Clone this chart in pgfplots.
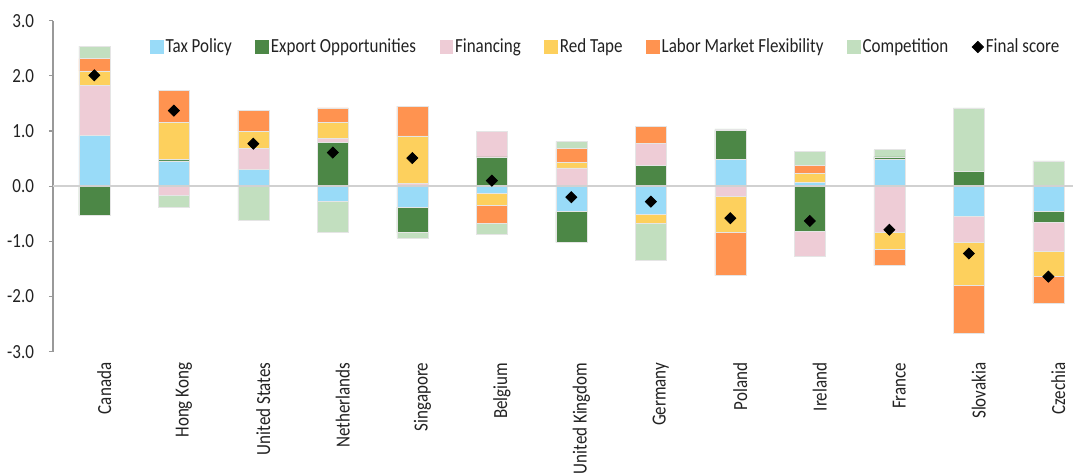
\documentclass[border=0pt]{standalone}
\usepackage{fontspec}
\setmainfont{Carlito}[FakeStretch=0.85]
\usepackage{pgfplots}
\usepackage{pgfplotstable}
\pgfplotsset{compat=1.18}

\definecolor{taxc}{HTML}{99DBF8}
\definecolor{expc}{HTML}{4C8746}
\definecolor{finc}{HTML}{EECCD6}
\definecolor{redc}{HTML}{FDD05D}
\definecolor{labc}{HTML}{FF9350}
\definecolor{comc}{HTML}{C2DFBF}
\definecolor{txt}{HTML}{222222}

\pgfplotstableread{
idx tax exp fin red lab com score
0   0.92 -0.53  0.91  0.26  0.22  0.23  2.01
1   0.46  0.02 -0.16  0.67  0.58 -0.22  1.37
2   0.31  0.00  0.38  0.31  0.38 -0.61  0.77
3  -0.28  0.79  0.07  0.29  0.27 -0.56  0.61
4  -0.38 -0.46  0.05  0.86  0.54 -0.10  0.51
5  -0.12  0.53  0.46 -0.23 -0.33 -0.20  0.10
6  -0.46 -0.56  0.33  0.10  0.25  0.13 -0.20
7  -0.51  0.38  0.39 -0.17  0.31 -0.66 -0.28
8   0.48  0.53 -0.18 -0.66 -0.78  0.03 -0.58
9   0.07 -0.81 -0.46  0.16  0.15  0.25 -0.63
10  0.48  0.05 -0.84 -0.30 -0.30  0.13 -0.79
11 -0.55  0.27 -0.47 -0.78 -0.86  1.15 -1.22
12 -0.46 -0.20 -0.52 -0.46 -0.48  0.46 -1.64
}\data

\pgfplotsset{
  base/.style={
    width=510pt, height=165.5pt, scale only axis,
    xmin=-0.52, xmax=12.31, ymin=-3, ymax=3,
  },
  barax/.style={base, ybar stacked, bar width=15.5pt, hide axis,
    every axis plot/.append style={draw=white!90!black, line width=0.3pt}},
}

\begin{document}
\begin{tikzpicture}[font=\color{txt}]
% axis frame, ticks, labels
\begin{axis}[base,
  axis lines*=left,
  separate axis lines,
  x axis line style={draw=none},
  y axis line style={draw=black!40, line width=0.6pt},
  ytick={-3,-2,-1,0,1,2,3},
  yticklabel style={xshift=-4pt, /pgf/number format/fixed, /pgf/number format/fixed zerofill, /pgf/number format/precision=1, /pgf/number format/assume math mode=true},
  ytick style={draw=black!40, line width=0.6pt},
  tick align=outside,
  major tick length=2pt,
  xtick={0,...,12},
  xticklabels={Canada,Hong Kong,United States,Netherlands,Singapore,Belgium,United Kingdom,Germany,Poland,Ireland,France,Slovakia,Czechia},
  xticklabel style={rotate=90, anchor=east, yshift=-5pt},
  xtick style={draw=none},
]
\addplot[draw=none] coordinates {(0,0)};
\end{axis}
% positive parts
\begin{axis}[barax]
\addplot[fill=taxc] table[x=idx, y expr={max(\thisrow{tax},0)}] {\data};
\addplot[fill=expc] table[x=idx, y expr={max(\thisrow{exp},0)}] {\data};
\addplot[fill=finc] table[x=idx, y expr={max(\thisrow{fin},0)}] {\data};
\addplot[fill=redc] table[x=idx, y expr={max(\thisrow{red},0)}] {\data};
\addplot[fill=labc] table[x=idx, y expr={max(\thisrow{lab},0)}] {\data};
\addplot[fill=comc] table[x=idx, y expr={max(\thisrow{com},0)}] {\data};
\end{axis}
% negative parts
\begin{axis}[barax]
\addplot[fill=taxc] table[x=idx, y expr={min(\thisrow{tax},0)}] {\data};
\addplot[fill=expc] table[x=idx, y expr={min(\thisrow{exp},0)}] {\data};
\addplot[fill=finc] table[x=idx, y expr={min(\thisrow{fin},0)}] {\data};
\addplot[fill=redc] table[x=idx, y expr={min(\thisrow{red},0)}] {\data};
\addplot[fill=labc] table[x=idx, y expr={min(\thisrow{lab},0)}] {\data};
\addplot[fill=comc] table[x=idx, y expr={min(\thisrow{com},0)}] {\data};
\end{axis}
% zero line, final score, legend
\begin{axis}[base, hide axis, clip=false,
  legend columns=7,
  legend style={at={(0.0951,0.9205)}, anchor=west, draw=none, fill=none,
    inner sep=0pt, outer sep=0pt, nodes={inner sep=1pt},
    /tikz/every even column/.append style={column sep=10.75pt}},
  legend cell align=left,
]
\draw[black!18, line width=1pt] (rel axis cs:0,0.5) -- (rel axis cs:1,0.5);
\addlegendimage{legend image code/.code={\fill[taxc] (0pt,-3.2pt) rectangle (6.4pt,3.2pt);}}
\addlegendimage{legend image code/.code={\fill[expc] (0pt,-3.2pt) rectangle (6.4pt,3.2pt);}}
\addlegendimage{legend image code/.code={\fill[finc] (0pt,-3.2pt) rectangle (6.4pt,3.2pt);}}
\addlegendimage{legend image code/.code={\fill[redc] (0pt,-3.2pt) rectangle (6.4pt,3.2pt);}}
\addlegendimage{legend image code/.code={\fill[labc] (0pt,-3.2pt) rectangle (6.4pt,3.2pt);}}
\addlegendimage{legend image code/.code={\fill[comc] (0pt,-3.2pt) rectangle (6.4pt,3.2pt);}}
\addlegendimage{legend image code/.code={\fill[black] (3.2pt,2.8pt) -- (6pt,0pt) -- (3.2pt,-2.8pt) -- (0.4pt,0pt) -- cycle;}}
\addplot[only marks, mark=square*, mark size=1.95pt, mark options={rotate=45, fill=black, draw=black}, forget plot] table[x=idx, y=score] {\data};
\legend{Tax Policy, Export Opportunities, Financing, Red Tape, Labor Market Flexibility, Competition, Final score}
\end{axis}
\pgfresetboundingbox
\path[use as bounding box] (0,0) ++(-26.5pt,-61.15pt) rectangle (510pt,175.85pt);
\end{tikzpicture}
\end{document}
